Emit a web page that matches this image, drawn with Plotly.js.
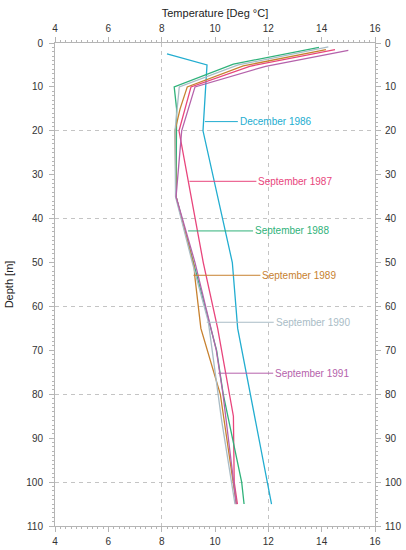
<!DOCTYPE html>
<html>
<head>
<meta charset="utf-8">
<script src="https://cdn.plot.ly/plotly-3.0.1.min.js"></script>
<style>html,body{margin:0;padding:0;background:#fff;}#chart{width:406px;height:550px;}</style>
</head>
<body>
<div id="chart"></div>
<script>
// ---- data (temperature in °C, depth in m) ----
const seriesNames = ["December 1986","September 1987","September 1988","September 1989","September 1990","September 1991"];
const depth1986 = [2.5, 5, 20, 50, 65, 105];
const temp1986  = [8.2, 9.7, 9.55, 10.65, 10.85, 12.12];
const depth1987 = [1.5, 5.3, 10, 20, 50, 65, 85, 100, 105];
const temp1987  = [14.5, 11.3, 9.1, 8.65, 9.56, 10.1, 10.69, 10.72, 10.84];
const depth1988 = [1, 4.8, 10, 15, 35, 50, 70, 80, 100, 105];
const temp1988  = [13.9, 10.69, 8.47, 8.56, 8.54, 9.2, 10.06, 10.31, 11.0, 11.09];
const depth1989 = [1.5, 5.2, 10, 15, 20, 35, 51, 53, 65, 80, 105];
const temp1989  = [14.16, 11.06, 8.96, 8.69, 8.5, 8.54, 9.22, 9.24, 9.47, 10.2, 10.8];
const depth1990 = [0.9, 5, 10, 20, 35, 50, 63.5, 80, 86, 105];
const temp1990  = [14.25, 10.87, 8.66, 8.5, 8.52, 9.15, 9.75, 10.12, 10.25, 10.75];
const depth1991 = [1.7, 5.3, 10, 20, 35, 50, 70, 80, 105];
const temp1991  = [15.0, 11.9, 9.25, 8.75, 8.54, 9.25, 10.05, 10.3, 10.8];
const seriesColors = ["#22add0","#e8457c","#2fb27a","#c7812f","#a9bcc6","#b562ab"];
// label leader-line anchor points on each curve
const labelTemp  = [9.62, 9.04, 8.99, 9.19, 9.69, 10.12];
const labelDepth = [17.9, 31.5, 42.8, 52.9, 63.6, 75.2];
const labelShift = [33, 67, 65, 67, 67, 55];
// axis ticks
const xTickVals = [4, 6, 8, 10, 12, 14, 16];
const yTickVals = [0, 10, 20, 30, 40, 50, 60, 70, 80, 90, 100, 110];

const depths = [depth1986, depth1987, depth1988, depth1989, depth1990, depth1991];
const temps  = [temp1986, temp1987, temp1988, temp1989, temp1990, temp1991];

const traces = seriesNames.map((n, i) => ({
  type: 'scatter', mode: 'lines', name: n,
  x: temps[i], y: depths[i],
  line: {color: seriesColors[i], width: 1.3},
  hoverinfo: 'skip'
}));

const axisGray = '#b5b5b5';
const fontFam = 'Liberation Sans, Arial, sans-serif';
const tickFont = {family: fontFam, size: 10, color: '#333'};

const annotations = seriesNames.map((n, i) => ({
  x: labelTemp[i], y: labelDepth[i], xref: 'x', yref: 'y',
  text: n, showarrow: true, arrowhead: 0, arrowwidth: 1, arrowcolor: seriesColors[i],
  ax: labelShift[i], ay: 0, xanchor: 'left', yanchor: 'middle', standoff: 0,
  font: {family: fontFam, size: 10, color: seriesColors[i]}
}));

const layout = {
  width: 406, height: 550,
  margin: {l: 55, r: 31, t: 43, b: 24},
  paper_bgcolor: '#fff', plot_bgcolor: '#fff',
  showlegend: false,
  font: {family: fontFam},
  xaxis: {
    range: [4, 16], tickvals: xTickVals, ticks: 'outside', ticklen: 5, tickcolor: axisGray,
    showline: true, linecolor: axisGray, linewidth: 1, mirror: 'ticks',
    showgrid: false, zeroline: false, tickfont: tickFont, ticklabelstandoff: 1,
    minor: {dtick: 0.2, tick0: 4, ticks: 'outside', ticklen: 2, tickcolor: axisGray, showgrid: false}
  },
  xaxis2: {
    range: [4, 16], overlaying: 'x', side: 'top', anchor: 'y', tickvals: xTickVals, ticks: '',
    showline: false, showgrid: false, zeroline: false, tickfont: tickFont, ticklabelstandoff: 8,
    title: {text: 'Temperature [Deg °C]', font: {family: fontFam, size: 11, color: '#222'}, standoff: 3}
  },
  xaxis3: {
    range: [4, 16], overlaying: 'x', anchor: 'y', dtick: 4, tick0: 4, showticklabels: false, ticks: '',
    showline: false, showgrid: true, gridcolor: '#c4c4c4', griddash: '4px,4px', gridwidth: 1, zeroline: false
  },
  yaxis: {
    range: [110, 0], tickvals: yTickVals, ticks: 'outside', ticklen: 5, tickcolor: axisGray,
    showline: true, linecolor: axisGray, linewidth: 1, mirror: 'ticks',
    showgrid: false, zeroline: false, tickfont: tickFont, ticklabelstandoff: 4,
    minor: {dtick: 1, tick0: 0, ticks: 'outside', ticklen: 2, tickcolor: axisGray, showgrid: false},
    title: {text: 'Depth [m]', font: {family: fontFam, size: 11, color: '#222'}, standoff: 10}
  },
  yaxis2: {
    range: [110, 0], overlaying: 'y', side: 'right', anchor: 'x', tickvals: yTickVals, ticks: '',
    showline: false, showgrid: false, zeroline: false, tickfont: tickFont, ticklabelstandoff: 9
  },
  yaxis3: {
    range: [110, 0], overlaying: 'y', anchor: 'x', dtick: 20, tick0: 0, showticklabels: false, ticks: '',
    showline: false, showgrid: true, gridcolor: '#c4c4c4', griddash: '4px,4px', gridwidth: 1, zeroline: false
  },
  annotations: annotations
};

// helper invisible traces so overlay axes are drawn
const gridTraceX = {type: 'scatter', mode: 'markers', x: [4], y: [0], xaxis: 'x3', yaxis: 'y3', marker: {opacity: 0}, hoverinfo: 'skip'};
const topTrace = {type: 'scatter', mode: 'markers', x: [4], y: [0], xaxis: 'x2', yaxis: 'y2', marker: {opacity: 0}, hoverinfo: 'skip'};

Plotly.newPlot('chart', [gridTraceX, topTrace].concat(traces), layout, {staticPlot: true, displayModeBar: false});
</script>
</body>
</html>
